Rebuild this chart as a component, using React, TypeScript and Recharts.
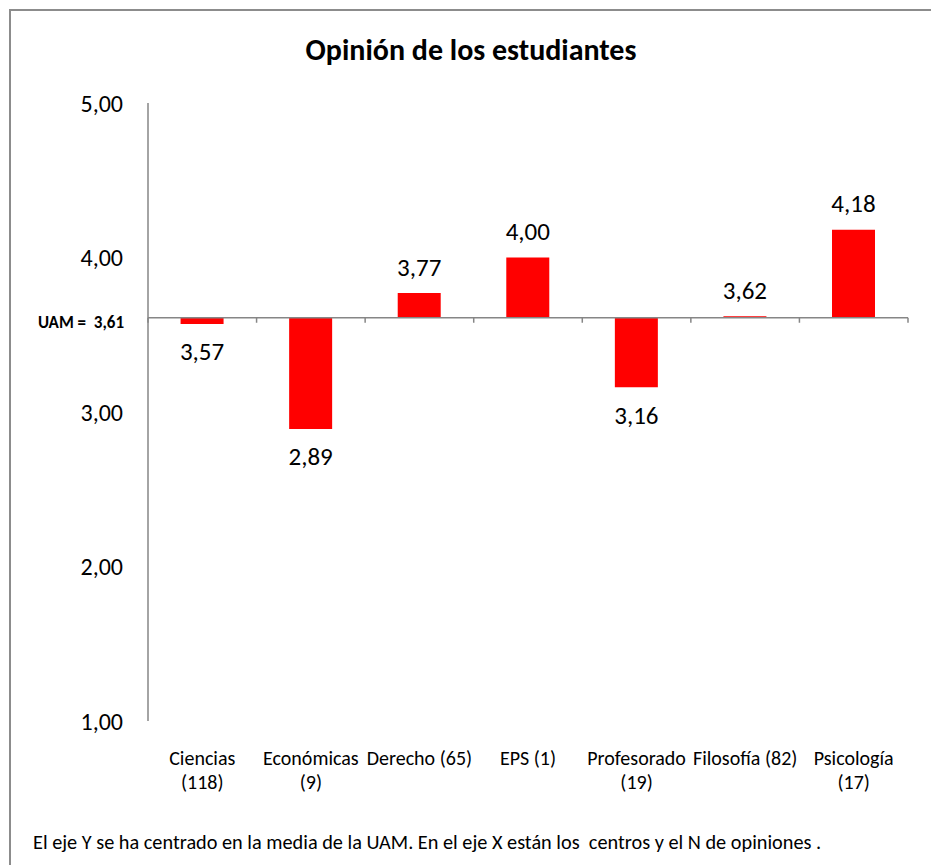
import { BarChart, Bar, XAxis, YAxis, ReferenceLine, LabelList } from "recharts";

// centros y N de opiniones
const categories = [
  "Ciencias\n(118)",
  "Económicas\n(9)",
  "Derecho (65)",
  "EPS (1)",
  "Profesorado\n(19)",
  "Filosofía (82)",
  "Psicología\n(17)"
];
const scores = [3.57, 2.89, 3.77, 4.0, 3.16, 3.62, 4.18];
const uamMean = 3.61;
const yTicks = [1, 2, 3, 4, 5];

const FONT = "Carlito, Calibri, Lato, sans-serif";

const data = categories.map((c, i) => ({
  name: c,
  value: scores[i],
  range: [Math.min(uamMean, scores[i]), Math.max(uamMean, scores[i])]
}));

const fmt = (v: number) => v.toFixed(2).replace(".", ",");

const CategoryTick = (props: any) => {
  const { x, y, payload } = props;
  const lines = String(payload.value).split("\n");
  return (
    <text x={x} y={y} textAnchor="middle" fontFamily={FONT} fontSize={20} fill="#000">
      {lines.map((l, i) => (
        <tspan key={i} x={x} dy={i === 0 ? 0 : 24}>
          {l}
        </tspan>
      ))}
    </text>
  );
};

const BaseLine = (props: any) => {
  const { x1, y1, x2 } = props;
  const n = categories.length;
  const step = (x2 - x1) / n;
  return (
    <g>
      <line x1={x1} y1={y1} x2={x2} y2={y1} stroke="#868686" strokeWidth={1.5} />
      {Array.from({ length: n + 1 }, (_, i) => (
        <line key={i} x1={x1 + i * step} y1={y1} x2={x1 + i * step} y2={y1 + 5} stroke="#868686" strokeWidth={1.5} />
      ))}
      <text x={x1 - 24} y={y1 + 5} textAnchor="end" dominantBaseline="central" fontFamily={FONT} fontSize={17} fontWeight="bold" fill="#000" style={{ whiteSpace: "pre" }}>
        {`UAM =  ${fmt(uamMean)}`}
      </text>
    </g>
  );
};

const ValueLabel = (props: any) => {
  const { x, y, width, height, value } = props;
  const above = value >= uamMean;
  const ty = above ? y - 26 : y + height + 28;
  return (
    <text x={x + width / 2} y={ty} textAnchor="middle" dominantBaseline="central" fontFamily={FONT} fontSize={25} fill="#000">
      {fmt(value)}
    </text>
  );
};

const App = () => {
  return (
    <div style={{ position: "absolute", left: 0, top: 0, width: 931, height: 865, background: "#fff", overflow: "hidden", fontFamily: FONT }}>
      <div style={{ position: "absolute", left: 9, top: 9, width: 930, height: 870, border: "2px solid #8c8c8c", boxSizing: "border-box" }} />
      <div style={{ position: "absolute", left: 0, width: 942, top: 31, textAlign: "center", fontSize: 30, fontWeight: "bold" }}>
        Opinión de los estudiantes
      </div>
      <div style={{ position: "absolute", left: 0, top: 0 }}>
        <BarChart width={931} height={865} data={data} margin={{ top: 103, right: 23, bottom: 84, left: 48 }} barCategoryGap="30%">
          <YAxis
            width={100}
            domain={[1, 5]}
            ticks={yTicks}
            tickFormatter={fmt}
            axisLine={{ stroke: "#868686", strokeWidth: 1.5 }}
            tickLine={false}
            tickSize={0}
            tickMargin={25}
            tick={{ fontFamily: FONT, fontSize: 24, fill: "#000" }}
          />
          <XAxis dataKey="name" axisLine={false} tickLine={false} height={60} tick={<CategoryTick />} tickSize={0} tickMargin={44} interval={0} />
          <ReferenceLine y={uamMean} shape={<BaseLine />} />
          <Bar dataKey="range" fill="#ff0000" isAnimationActive={false}>
            <LabelList dataKey="value" content={<ValueLabel />} />
          </Bar>
        </BarChart>
      </div>
      <div style={{ position: "absolute", left: 33, top: 830, fontSize: 20.3, whiteSpace: "pre" }}>
        El eje Y se ha centrado en la media de la UAM. En el eje X están los  centros y el N de opiniones .
      </div>
    </div>
  );
};

export default App;
